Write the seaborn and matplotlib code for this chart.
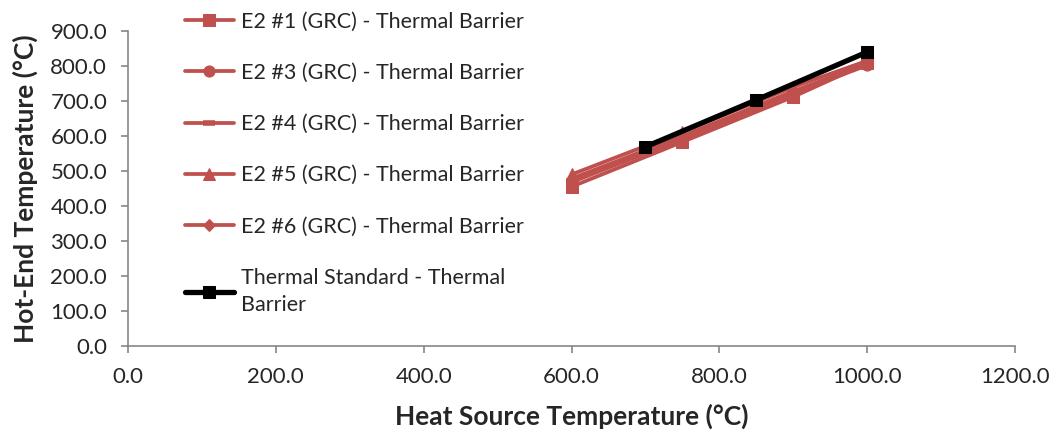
import matplotlib
matplotlib.use("Agg")
import matplotlib.pyplot as plt
import seaborn as sns
import pandas as pd

sns.set_theme(style="white")
plt.rcParams['font.family'] = ['Lato', 'DejaVu Sans']

# Data
x_e2 = [600, 750, 900, 1000]
e2_1 = [455, 583, 712, 808]
e2_3 = [468, 592, 722, 802]
e2_4 = [472, 595, 725, 810]
e2_5 = [490, 612, 740, 815]
e2_6 = [478, 600, 728, 805]
x_std = [700, 850, 1000]
std = [569, 703, 840]

labels = ["E2 #1 (GRC) - Thermal Barrier",
          "E2 #3 (GRC) - Thermal Barrier",
          "E2 #4 (GRC) - Thermal Barrier",
          "E2 #5 (GRC) - Thermal Barrier",
          "E2 #6 (GRC) - Thermal Barrier",
          "Thermal Standard - Thermal\nBarrier"]

x_ticks = [0, 200, 400, 600, 800, 1000, 1200]
y_ticks = [0, 100, 200, 300, 400, 500, 600, 700, 800, 900]

red = "#C0504D"
fig = plt.figure(figsize=(10.56, 4.4), dpi=100)
ax = fig.add_axes([128/1056, 1-346/440, (1015-128)/1056, (346-31)/440])

series = [(x_e2, e2_1, 's', 8, {}), (x_e2, e2_3, 'o', 8, {}),
          (x_e2, e2_4, '_', 9, {'markeredgewidth': 4}),
          (x_e2, e2_5, '^', 9, {}), (x_e2, e2_6, 'D', 6.5, {})]
for (xs, ys, m, ms, kw), lab in zip(series, labels[:5]):
    df = pd.DataFrame({"x": xs, "y": ys})
    sns.lineplot(data=df, x="x", y="y", ax=ax, color=red, marker=m,
                 markersize=ms, markeredgecolor=red, linewidth=2.7,
                 label=lab, **kw)
dfs = pd.DataFrame({"x": x_std, "y": std})
sns.lineplot(data=dfs, x="x", y="y", ax=ax, color="black", marker='s',
             markersize=9, markeredgecolor="black", linewidth=3.8,
             label=labels[5])

ax.set_xlim(0, 1200)
ax.set_ylim(0, 900)
ax.set_xticks(x_ticks)
ax.set_yticks(y_ticks)
ax.set_xticklabels([f"{v:.1f}" for v in x_ticks], fontsize=16)
ax.set_yticklabels([f"{v:.1f}" for v in y_ticks], fontsize=16)
ax.set_xlabel("Heat Source Temperature (°C)", fontsize=19, fontweight='bold', labelpad=12)
ax.set_ylabel("Hot-End Temperature (°C)", fontsize=19, fontweight='bold', labelpad=9)
for s in ['top', 'right']:
    ax.spines[s].set_visible(False)
for s in ['left', 'bottom']:
    ax.spines[s].set_color('#868686')
    ax.spines[s].set_linewidth(1.2)
ax.tick_params(axis='y', which='major', direction='out', length=5,
               color='#868686', width=1.2, left=True, pad=10)
ax.tick_params(axis='x', which='major', direction='out', length=5,
               color='#868686', width=1.2, bottom=True, pad=10)
ax.grid(False)

h, l = ax.get_legend_handles_labels()
ax.get_legend().remove()
leg = fig.legend(h, l, loc='upper left', bbox_to_anchor=(176/1056, 1 - 3/440),
                 frameon=False, fontsize=15.5, handlelength=2.3, labelspacing=1.45,
                 handletextpad=0.3, borderaxespad=0)
for t in leg.get_texts():
    t.set_linespacing(1.45)

fig.savefig("out.png", dpi=100)
